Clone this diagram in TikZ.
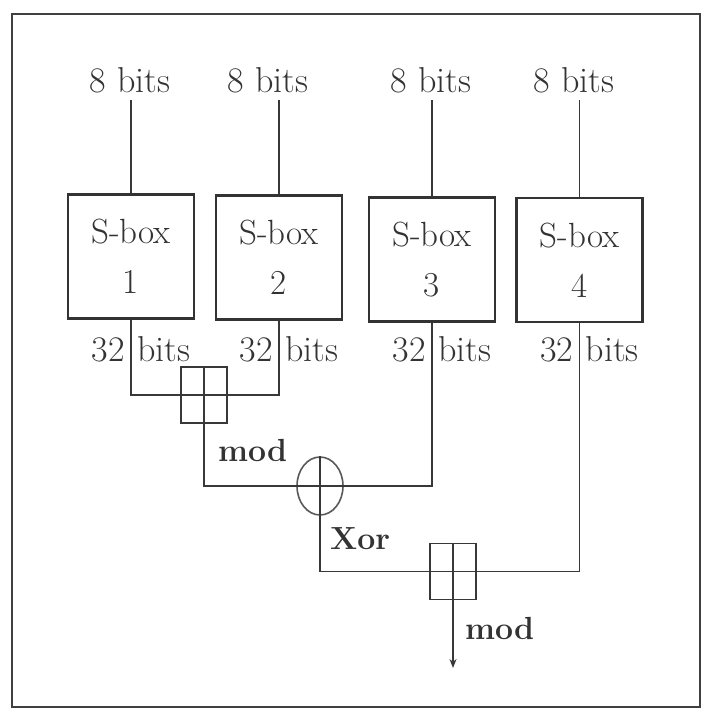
\documentclass[tikz,border=0pt]{standalone}
\usetikzlibrary{arrows.meta,shapes.geometric}
\begin{document}
\begin{tikzpicture}[x=1pt,y=-1pt,
  wire/.style={draw=black!78,line width=1.6pt},
  sbox/.style={draw=black!80,line width=2.6pt,minimum width=126pt,minimum height=124pt,align=center,font=\fontsize{35}{50}\selectfont,text=black!80,inner sep=0pt},
  modbox/.style={draw=black!78,line width=1.8pt,minimum width=46pt,minimum height=56pt,inner sep=0pt},
  xorc/.style={ellipse,draw=black!65,line width=1.6pt,minimum width=46pt,minimum height=58pt,inner sep=0pt},
  lbl/.style={font=\fontsize{36}{40}\selectfont,text=black!80,inner sep=0pt},
  blbl/.style={font=\bfseries\fontsize{32}{36}\selectfont,text=black!80,inner sep=0pt}]
\useasboundingbox (0,0) rectangle (702,715);
\draw[line width=1.4pt,black!75] (12,14) rectangle (700,707);

% S-boxes
\node[sbox] (s1) at (131,256.5) {S-box\\1};
\node[sbox] (s2) at (279,257.5) {S-box\\2};
\node[sbox] (s3) at (432,259.5) {S-box\\3};
\node[sbox] (s4) at (579.5,260) {S-box\\4};

% inputs
\node[lbl,anchor=base] (i1) at (130,92) {8 bits};
\node[lbl,anchor=base] (i2) at (268,92) {8 bits};
\node[lbl,anchor=base] (i3) at (431,92) {8 bits};
\node[lbl,anchor=base] (i4) at (574,92) {8 bits};
\draw[wire] (s1.north) -- ([yshift=-8pt]s1.north |- i1.base);
\draw[wire] (s2.north) -- ([yshift=-8pt]s2.north |- i2.base);
\draw[wire] (s3.north) -- ([yshift=-8pt]s3.north |- i3.base);
\draw[wire] (s4.north) -- ([yshift=-8pt]s4.north |- i4.base);

% output labels
\node[lbl,anchor=base east] (a1) at ([xshift=-6pt,yshift=-41.5pt]s1.south) {32};
\node[lbl,anchor=base west] (b1) at ([xshift=6pt,yshift=-41.5pt]s1.south) {bits};
\node[lbl,anchor=base east] (a2) at ([xshift=-6pt,yshift=-40.5pt]s2.south) {32};
\node[lbl,anchor=base west] (b2) at ([xshift=6pt,yshift=-40.5pt]s2.south) {bits};
\node[lbl,anchor=base east] (a3) at ([xshift=-6pt,yshift=-38.5pt]s3.south) {32};
\node[lbl,anchor=base west] (b3) at ([xshift=6pt,yshift=-38.5pt]s3.south) {bits};
\node[lbl,anchor=base east] (a4) at ([xshift=-6pt,yshift=-38pt]s4.south) {32};
\node[lbl,anchor=base west] (b4) at ([xshift=6pt,yshift=-38pt]s4.south) {bits};

% combiners
\node[modbox] (m1) at (204,395) {};
\node[xorc] (x) at (320,486) {};
\node[modbox] (m2) at (453,571.5) {};
\coordinate (out) at (453,668);

\draw[wire] (s1.south) |- (m1.center) -| (s2.south);
\draw[wire] (m1.north) -- (m1.south) |- (x.center) -| (s3.south);
\draw[wire] (x.north) -- (x.south) |- (m2.center) -| (s4.south);
\draw[wire] (m2.north) -- (m2.south);
\draw[wire,-{Stealth[length=9pt,width=7pt]}] (m2.south) -- (out);

% operation labels
\node[blbl,anchor=base west] (ml1) at (218,461) {mod};
\node[blbl,anchor=base west] (xl) at (330,549) {Xor};
\node[blbl,anchor=base west] (ml2) at (465,639) {mod};
\end{tikzpicture}
\end{document}
